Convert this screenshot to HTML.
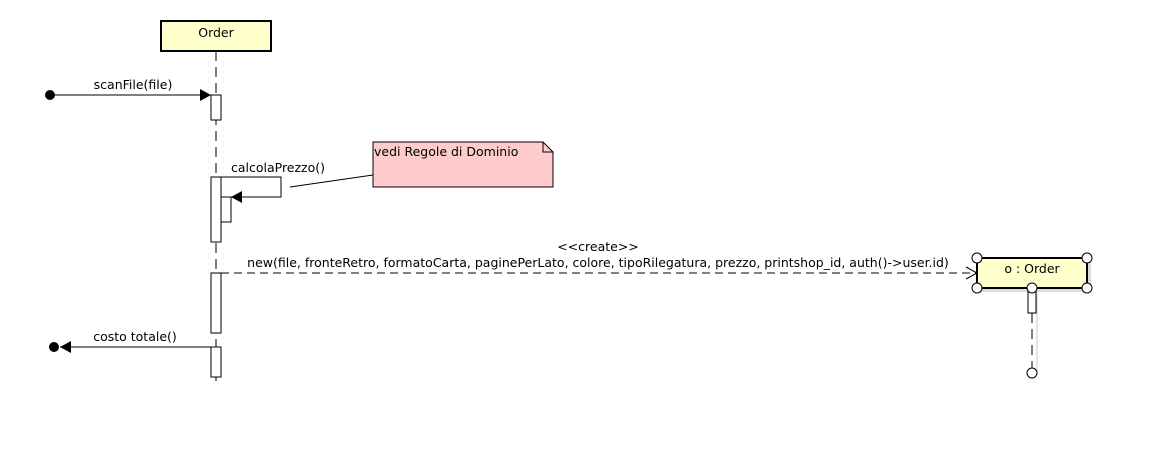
<!DOCTYPE html>
<html><head><meta charset="utf-8"><style>
body{margin:0;background:#fff;}
svg text{font-family:"DejaVu Sans","Liberation Sans",sans-serif;font-size:12.5px;fill:#000;}
</style></head><body>
<svg width="1155" height="450" viewBox="0 0 1155 450" xmlns="http://www.w3.org/2000/svg">
<rect width="1155" height="450" fill="#fff"/>
<rect x="161" y="21" width="110" height="30" fill="#ffffcc" stroke="#000" stroke-width="2"/>
<text x="216" y="37" text-anchor="middle">Order</text>
<line x1="216" y1="51" x2="216" y2="387" stroke="#000" stroke-dasharray="10,6"/>
<circle cx="50" cy="95" r="5" fill="#000"/>
<line x1="50" y1="95" x2="211" y2="95" stroke="#000"/>
<polygon points="211,95 200,89 200,101" fill="#000"/>
<text x="133" y="89" text-anchor="middle">scanFile(file)</text>
<rect x="211" y="95" width="10" height="25" fill="#fff" stroke="#000"/>
<rect x="211" y="177" width="10" height="65" fill="#fff" stroke="#000"/>
<rect x="221" y="197" width="10" height="25" fill="#fff" stroke="#000"/>
<polyline points="221,177 281,177 281,197 231,197" fill="none" stroke="#000"/>
<polygon points="231,197 242,191 242,203" fill="#000"/>
<text x="278" y="172" text-anchor="middle">calcolaPrezzo()</text>
<line x1="290" y1="187" x2="373" y2="175" stroke="#000"/>
<polygon points="373,142 543,142 553,152 553,187 373,187" fill="#ffcccc" stroke="#000"/>
<polyline points="543,142 543,152 553,152" fill="none" stroke="#000"/>
<text x="374" y="156">vedi Regole di Dominio</text>
<rect x="211" y="273" width="10" height="60" fill="#fff" stroke="#000"/>
<line x1="221" y1="273" x2="976" y2="273" stroke="#000" stroke-dasharray="8,5"/>
<polyline points="966,267 977,273 966,279" fill="none" stroke="#000"/>
<text x="598" y="251" text-anchor="middle">&lt;&lt;create&gt;&gt;</text>
<text x="598" y="267" text-anchor="middle">new(file, fronteRetro, formatoCarta, paginePerLato, colore, tipoRilegatura, prezzo, printshop_id, auth()-&gt;user.id)</text>
<rect x="211" y="347" width="10" height="30" fill="#fff" stroke="#000"/>
<line x1="60" y1="347" x2="211" y2="347" stroke="#000"/>
<polygon points="60,347 71,341 71,353" fill="#000"/>
<circle cx="54" cy="347" r="5" fill="#000"/>
<text x="135" y="341" text-anchor="middle">costo totale()</text>
<rect x="981" y="262" width="110" height="30" fill="#ddd"/>
<rect x="977" y="258" width="110" height="30" fill="#ffffcc" stroke="#000" stroke-width="2"/>
<text x="1032" y="273" text-anchor="middle">o : Order</text>
<line x1="1037" y1="292" x2="1037" y2="372" stroke="#ccc"/>
<line x1="1032" y1="313" x2="1032" y2="368" stroke="#000" stroke-dasharray="10,6"/>
<rect x="1028" y="288" width="8" height="25" fill="#fff" stroke="#000"/>
<g fill="#fff" stroke="#000">
<circle cx="977" cy="258" r="5"/><circle cx="1087" cy="258" r="5"/>
<circle cx="977" cy="288" r="5"/><circle cx="1087" cy="288" r="5"/>
<circle cx="1032" cy="288" r="5"/><circle cx="1032" cy="373" r="5"/>
</g>
</svg>
</body></html>
